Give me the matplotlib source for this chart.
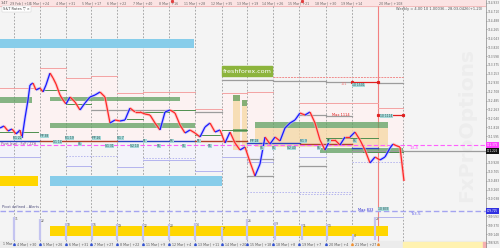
import numpy as np
import matplotlib.pyplot as plt
from matplotlib.collections import LineCollection
from matplotlib.patches import Rectangle

# bar index and close price
bar = [0, 4, 8, 12, 16, 20, 22, 25, 28, 30, 33, 36, 40, 43, 46, 50, 53, 56, 60, 63,
       66, 70, 75, 80, 85, 90, 95, 100, 105, 110, 115, 120, 125, 130, 135, 140, 145,
       150, 155, 160, 165, 170, 175, 180, 185, 190, 195, 200, 205, 210, 215, 220, 225,
       230, 235, 240, 245, 250, 255, 260, 265, 270, 275, 280, 285, 290, 295, 300, 305,
       310, 315, 320, 325, 330, 335, 340, 345, 350, 355, 360, 365, 370, 375, 380, 385,
       390, 393, 397, 400, 404]
close = [111.800, 111.850, 111.725, 111.775, 111.650, 111.750, 111.550, 112.050, 112.500,
         112.875, 112.925, 112.750, 112.800, 112.700, 112.875, 113.175, 113.050, 112.900,
         112.625, 112.500, 112.400, 112.575, 112.450, 112.250, 112.425, 112.575, 112.625,
         112.700, 112.575, 111.925, 112.000, 111.975, 112.000, 112.300, 112.200, 112.200,
         112.150, 112.125, 111.925, 111.750, 112.200, 112.250, 112.175, 111.875, 111.675,
         111.750, 111.675, 111.575, 111.825, 111.925, 111.700, 111.750, 111.425, 111.700,
         111.425, 111.250, 111.325, 110.950, 110.600, 110.900, 111.575, 111.400, 111.575,
         111.475, 111.800, 111.925, 112.000, 112.175, 112.125, 112.200, 111.925, 111.500,
         111.250, 111.500, 111.500, 111.375, 111.575, 111.575, 111.700, 111.500, 111.250,
         110.925, 111.075, 111.000, 111.075, 111.300, 111.400, 111.350, 111.325, 110.475]

day_sep = [14, 40, 66, 91, 117, 143, 169, 195, 222, 247, 273, 299, 326, 352, 403]
today_x = 378
top_dates = ["29 Feb | +18", "1 Mar | +24", "4 Mar | +31", "5 Mar | +17", "6 Mar | +22",
             "7 Mar | +40", "8 Mar | +16", "11 Mar | +28", "12 Mar | +35", "13 Mar | +19",
             "14 Mar | +26", "15 Mar | +21", "18 Mar | +30", "19 Mar | +14", "20 Mar | +108"]
bottom_dates = ["1 Mar", "4 Mar | +30", "5 Mar | +26", "6 Mar | +31", "7 Mar | +27",
                "8 Mar | +22", "11 Mar | +9", "12 Mar | +4", "13 Mar | +11", "14 Mar | +20",
                "15 Mar | +18", "18 Mar | +8", "19 Mar | +7", "20 Mar | +4", "21 Mar | +27"]

# zones: x0, x1, top price, bottom price
blue_zones = [(0, 194, 114.025, 113.800), (50, 222, 110.600, 110.350)]
yellow_zones = [(0, 38, 110.600, 110.350), (50, 388, 109.350, 109.100)]
tan_zones = [(233, 240, 112.625, 111.250), (242, 247, 112.500, 111.250),
             (255, 388, 111.800, 111.325)]
green_zones = [(0, 32, 112.575, 112.425), (50, 180, 112.575, 112.475),
               (50, 195, 111.925, 111.800), (233, 240, 112.625, 112.475),
               (242, 247, 112.500, 112.350), (233, 247, 111.775, 111.700),
               (255, 388, 111.950, 111.800), (320, 403, 111.300, 111.175)]

# level lines: x0, x1, price
pink_levels = [(0, 40, 112.800), (40, 66, 113.300), (66, 91, 113.050), (91, 117, 113.100),
               (117, 143, 112.675), (143, 169, 112.700), (169, 195, 112.700),
               (195, 222, 112.275), (222, 247, 112.675), (247, 273, 112.700),
               (299, 326, 112.425), (326, 352, 112.425), (352, 378, 112.425),
               (378, 403, 112.300)]
pink_dashed = [(273, 403, 113.075)]
red_levels = [(352, 378, 112.950), (378, 403, 112.125)]
grey_levels = [(92, 169, 112.250), (195, 222, 112.200), (222, 273, 113.000),
               (273, 326, 112.975), (326, 352, 112.950), (378, 403, 112.925),
               (299, 326, 112.125), (326, 352, 112.100), (247, 273, 111.025),
               (247, 273, 110.600), (299, 326, 110.850), (352, 486, 111.225)]
green_levels = [(40, 66, 112.750), (66, 91, 112.400), (0, 38, 111.700), (127, 143, 112.025),
                (143, 169, 112.200), (169, 195, 112.250), (195, 222, 111.625),
                (222, 247, 111.750), (326, 378, 111.550), (363, 403, 111.200)]
pivot_blue = [(0, 40, 111.475), (117, 195, 111.475), (247, 300, 111.425), (352, 378, 111.300)]
pivot_red = [(40, 117, 111.475), (195, 247, 111.475), (300, 352, 111.400)]
lav_levels = [(0, 40, 111.075), (66, 91, 110.850), (117, 143, 110.825), (143, 195, 111.000),
              (195, 222, 110.725), (222, 247, 111.075), (247, 273, 110.950),
              (299, 326, 111.075), (378, 403, 109.575)]
lav_dotted = [(66, 117, 111.100), (143, 195, 111.050), (247, 352, 110.200),
              (299, 352, 110.150), (352, 403, 110.950)]
magenta_level = 111.375
blue_level = 109.725
last_price = 111.225

# small tags
tag_x = [13, 40, 53, 65, 78, 92, 105, 117, 130, 143, 157, 170, 182, 197, 208, 250, 260,
         272, 287, 300, 317, 327, 353, 352, 380, 378]
tag_p = [111.550, 111.600, 111.450, 111.550, 111.400, 111.550, 111.350, 111.550, 111.350,
         111.475, 111.350, 111.475, 111.350, 111.475, 111.350, 111.475, 111.300, 111.300,
         111.300, 111.475, 111.300, 111.475, 111.475, 112.875, 112.100, 109.775]
tag_txt = ["R1 22", "PP 38", "S1 14", "R1 19", "S1", "PP 26", "S1 31", "R1 7", "S2 10",
           "P1", "S1", "R1", "S1", "P1", "S1", "PP 18", "S1", "S1", "S2 40", "R1 9", "S1",
           "PP", "R1", "10 1501", "10 1114", "10 833"]

# alerts panel
alert_x = [14, 40, 66, 92, 117, 143, 169, 195, 222, 247, 275, 302, 327, 353, 375]
alert_top = [109.575, 109.525, 109.425, 109.425, 109.400, 109.400, 109.400, 109.425,
             109.325, 109.525, 109.450, 109.400, 109.400, 109.150, 109.575]
alert_txt = ["31", "22", "18", "16", "19", "12", "20", "14", "7", "26", "9", "11", "13",
             "4", "27"]

price_ticks = np.arange(114.9325, 108.9, -0.2225)
price_ticks = [v for v in price_ticks
               if min(abs(v - h) for h in (magenta_level, last_price, blue_level)) > 0.1]

fig = plt.figure(figsize=(5, 2.48), dpi=100)
ax = fig.add_axes([0, 0, 486 / 500, 1])
ax.set_facecolor('#f4f4f4')
ax.set_xlim(0, 486)
ax.set_ylim(108.8, 115)

# strips
ax.axhspan(114.85, 115, color='#fbe3e3', zorder=0)
ax.axhline(114.85, color='#f1b5b5', lw=0.6, zorder=1)
ax.axhspan(108.8, 108.975, color='#ececec', zorder=0)
ax.fill_between([403, 483], 108.83, 108.95, color='#fff2b0', zorder=1)
ax.fill_between([483, 486], 108.83, 108.95, color='#f6b0b0', zorder=1)

# daily tints
for x0, x1, p in pink_levels:
    ax.add_patch(Rectangle((x0, 111.475), x1 - x0, p - 111.475, color='#fcf2f2', zorder=0.5))
for x0, x1, p in lav_levels[:-1]:
    ax.add_patch(Rectangle((x0, p), x1 - x0, 111.375 - p, color='#f3f3fa', zorder=0.5))

ax.vlines(day_sep, 108.975, 114.85, colors='#9a9a9a', linestyles=(0, (2, 2)), lw=0.6, zorder=1)
ax.vlines(today_x, 108.975, 114.85, colors='#f28080', lw=0.8, zorder=1)

def zones(items, color, alpha=1.0, z=2):
    for x0, x1, top, bot in items:
        ax.add_patch(Rectangle((x0, bot), x1 - x0, top - bot, facecolor=color,
                               edgecolor='none', alpha=alpha, zorder=z))

zones(blue_zones, '#87cdea')
zones(yellow_zones, '#ffd600')
zones(tan_zones, '#f6d9a8', 0.8)
zones(green_zones, '#5f9f5f', 0.75, 3)

def levels(items, color, lw=0.7, ls='-', z=3):
    for x0, x1, p in items:
        ax.plot([x0, x1], [p, p], color=color, lw=lw, ls=ls, zorder=z)

levels(pink_levels, '#f3a3a3')
levels(pink_dashed, '#f08c8c', ls=(0, (2, 1)))
levels(red_levels, '#e02020', lw=0.9)
levels(grey_levels, '#9c9c9c', lw=0.9)
levels(green_levels, '#4e8f4e')
levels(pivot_blue, '#2a44c0', lw=1.0)
levels(pivot_red, '#b0402a', lw=1.0)
levels(lav_levels, '#b4b4ee')
levels(lav_dotted, '#b4b4ee', ls=(0, (1.5, 1.5)))
for x0, x1, p in red_levels:
    ax.plot([x0, x1], [p, p], 's', color='#e02020', ms=1.3, zorder=4)

ax.axhline(magenta_level, color='#ff60ff', lw=0.8, ls=(0, (4, 2)), zorder=3)
ax.axhline(blue_level, color='#a4a4f0', lw=1.0, ls=(0, (4, 2)), zorder=3)
ax.text(410, magenta_level - 0.03, "13.4", color='#ff50ff', fontsize=3, va='top', zorder=5)
ax.text(410, blue_level - 0.03, "Tt3.5", color='#6a6ae8', fontsize=3, va='top', zorder=5)

# alerts panel
ax.text(2, 109.78, "Pivot defined - Alerts", fontsize=2.5, color='#4a4a7a', va='bottom', zorder=5)
ax.vlines(alert_x, 109.0, alert_top, colors='#c4c4f0', lw=1.6, zorder=4)
for x, p, t in zip(alert_x, alert_top, alert_txt):
    ax.text(x + 1, p, t, fontsize=2.2, color='#555', va='top', zorder=5)

# price
pts = np.column_stack([bar, close])
segs = np.stack([pts[:-1], pts[1:]], axis=1)
up = np.diff(close) > 0
cols = np.where(up, '#1a1aff', '#ff2828')
halo = np.where(up, '#b4b4ff', '#ffb0b0')
ax.add_collection(LineCollection(segs, colors=halo, lw=2.2, alpha=0.6, zorder=5))
ax.add_collection(LineCollection(segs, colors=cols, lw=0.9, zorder=6))

# tags
for x, p, t in zip(tag_x, tag_p, tag_txt):
    ax.text(x, p, t, fontsize=2.2, color='#305050', ha='left', va='center', zorder=7,
            bbox=dict(boxstyle='square,pad=0.15', fc='#a6dada', ec='none'))
ax.text(350, 112.125, "Max 1114", fontsize=2.6, color='#e02020', ha='right', va='center', zorder=7)
ax.text(373, 109.760, "Max 833", fontsize=2.6, color='#3030d0', ha='right', va='center', zorder=7)
ax.text(347, 112.890, "101", fontsize=2.4, color='#f07070', ha='right', va='center', zorder=7)
ax.text(1, 111.40, "Pivot level - FxP / ZZH", fontsize=2.3, color='#8a4a8a', va='center', zorder=7)

# brand labels
ax.add_patch(Rectangle((222, 113.100), 50, 0.25, color='#8cb43c', zorder=8))
ax.text(247, 113.225, "freshforex.com", fontsize=4.6, color='white', ha='center',
        va='center', zorder=9)
ax.text(467, 111.875, "FxProOptions", rotation=90, fontsize=14.5, fontweight='bold',
        color='#ededed', ha='center', va='center', zorder=1)

# header texts
ax.text(3, 114.78, "S&T Rates ▽ ×", fontsize=2.6, color='#444', va='center', zorder=9,
        bbox=dict(boxstyle='square,pad=0.3', fc='white', ec='#cccccc', lw=0.3))
ax.text(482, 114.775, "Weekly = 4.00 10 1.00036 , 28-03-0426(+1-20)", fontsize=2.6,
        color='#555', ha='right', va='center', zorder=9)
ax.text(1, 114.925, "1:47", fontsize=2.4, color='#555', va='center', zorder=9)
top_centers = [0] + day_sep
for i, t in enumerate(top_dates):
    ax.text((top_centers[i] + top_centers[i + 1]) / 2 + 13, 114.925, t, fontsize=2.3,
            color='#666', ha='center', va='center', zorder=9)
for x in [172, 302]:
    ax.plot(x, 114.98, 's', color='#e04040', ms=1.2, zorder=9)
for i, t in enumerate(bottom_dates):
    ax.text(top_centers[i] + 3, 108.89, t, fontsize=2.3, color='#555', ha='left',
            va='center', zorder=9)
ax.plot(day_sep[:-2], [108.89] * (len(day_sep) - 2), '^', color='#3050d0', ms=1.3, zorder=9)
ax.plot([352, 378], [108.89, 108.89], '^', color='#f09030', ms=1.3, zorder=9)

# right price axis
ax.yaxis.tick_right()
ax.set_yticks(price_ticks)
ax.set_yticklabels([f"{v:.3f}" for v in price_ticks], fontsize=2.1, color='#444')
ax.tick_params(axis='y', length=1.0, width=0.4, pad=0.5, colors='#666')
ax.set_xticks([])
for s in ['left', 'top', 'bottom']:
    ax.spines[s].set_visible(False)
ax.spines['right'].set_color('#888')
ax.spines['right'].set_linewidth(0.5)

for p, fc in [(magenta_level, '#ff40ff'), (last_price, '#111111'), (blue_level, '#3030e0')]:
    ax.text(1.002, p, f"{p:.3f}", transform=ax.get_yaxis_transform(), fontsize=2.0,
            color='white', va='center', ha='left', zorder=10, clip_on=False,
            bbox=dict(boxstyle='square,pad=0.2', fc=fc, ec='none'))

fig.savefig("out.png", dpi=100, facecolor='#f4f4f4')
